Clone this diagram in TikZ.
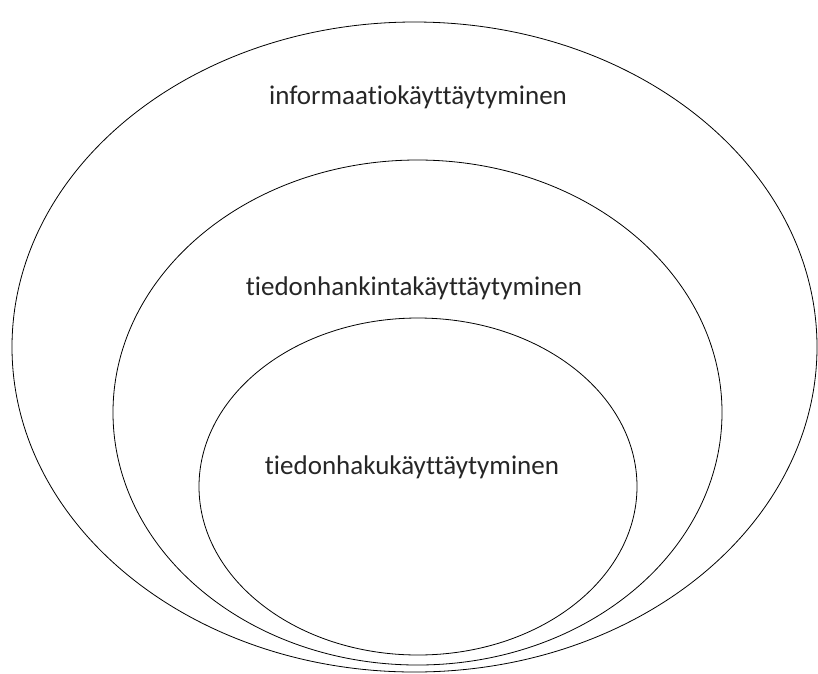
\documentclass[tikz,border=0pt]{standalone}
\usepackage{fontspec}
\setmainfont{Carlito}[Ligatures=NoCommon]
\tikzset{
  ring/.style={draw=black, line width=0.8pt},
  label/.style={font=\fontsize{27}{32}\selectfont, text=black!85}
}
\begin{document}
\begin{tikzpicture}[x=1pt,y=-1pt]
        \useasboundingbox (0,0) rectangle (818,673);
        % nested ellipses
        \draw [ring] (414.5,347) ellipse (402.5 and 325);
        \draw [ring] (417.5,412.5) ellipse (304.5 and 252.5);
        \draw [ring] (418,486.5) ellipse (219 and 168.5);
        % labels
        \node [label] (info) at (418,97) {informaatiokäyttäytyminen};
        \node [label] (hankinta) at (414,288) {tiedonhankintakäyttäytyminen};
        \node [label] (haku) at (412,467) {tiedonhakukäyttäytyminen};
    \end{tikzpicture}
\end{document}
